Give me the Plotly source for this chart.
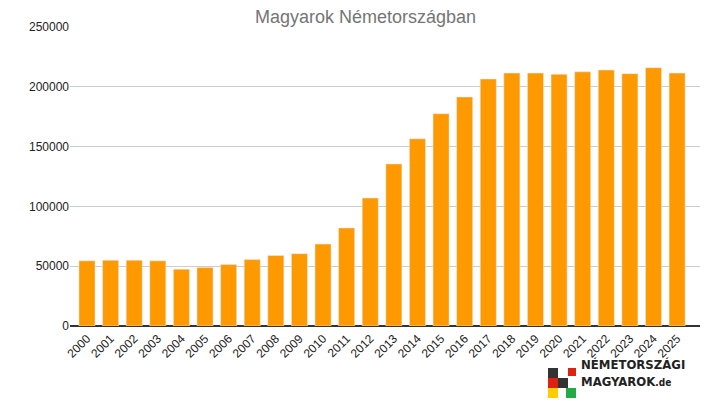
import plotly.graph_objects as go

years = [str(y) for y in range(2000, 2026)]
values = [54500, 55000, 55000, 54500, 47500, 49000, 51500, 55500, 59000, 60500,
          68500, 82000, 107000, 135500, 156500, 177500, 191500, 206500, 211500, 211500,
          210500, 212500, 214000, 211000, 216000, 211500]

fig = go.Figure(go.Bar(x=years, y=values, marker_color="#ff9900", width=0.68))
fig.update_layout(
    width=715, height=418, paper_bgcolor="white", plot_bgcolor="white",
    margin=dict(l=62, r=23, t=19, b=100),
    title=dict(text="Magyarok Németországban", x=0.5, y=0.995, yanchor="top", xanchor="center",
               font=dict(family="Liberation Sans, Arial", size=18, color="#757575")),
    font=dict(family="Liberation Sans, Arial", size=12, color="#222"),
    showlegend=False,
)
fig.update_yaxes(range=[0, 250000], dtick=50000, gridcolor="#cccccc", zeroline=True,
                 zerolinecolor="#333", tickformat="d", ticks="", showline=False)
fig.update_xaxes(tickangle=-45, showline=True, linecolor="#333", ticks="", range=[-0.72, 25.97])
for (x0, y0, x1, y1, c) in [(548, 368, 558, 378, "#333333"), (548, 378, 558, 388, "#dd2211"),
                             (548, 388, 558, 398, "#ffcc00"), (558, 378, 568, 388, "#333333"),
                             (568, 368, 576, 376, "#dd2211"), (566, 388, 576, 398, "#22aa44")]:
    fig.add_shape(type="rect", xref="paper", yref="paper",
                  x0=(x0-70)/630, x1=(x1-70)/630, y0=(326-y1)/299, y1=(326-y0)/299,
                  fillcolor=c, line_width=0, layer="above")
fig.add_annotation(xref="paper", yref="paper", x=(579-70)/630, y=(326-374)/299, xanchor="left",
                   text="<b>NÉMETORSZÁGI</b>", showarrow=False,
                   font=dict(family="DejaVu Sans Condensed, DejaVu Sans", size=13, color="#222"))
fig.add_annotation(xref="paper", yref="paper", x=(579-70)/630, y=(326-391)/299, xanchor="left",
                   text="<b>MAGYAROK</b><span style='font-size:10px'><b>.de</b></span>", showarrow=False,
                   font=dict(family="DejaVu Sans Condensed, DejaVu Sans", size=13, color="#222"))
fig.write_html("out.html")
